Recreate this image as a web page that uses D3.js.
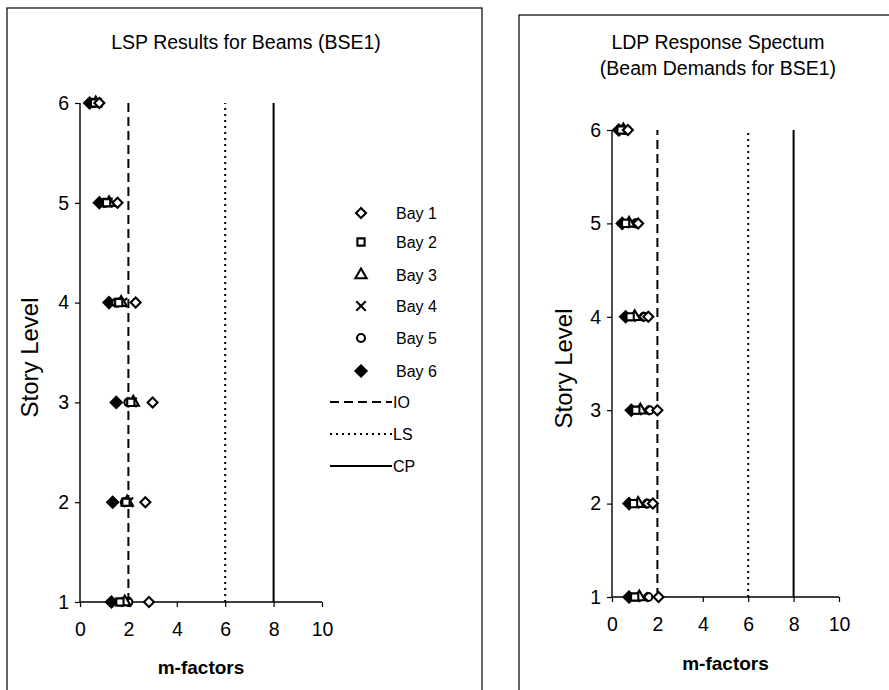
<!DOCTYPE html>
<html><head><meta charset="utf-8">
<script src="https://cdn.jsdelivr.net/npm/d3@7"></script>
<style>body{margin:0;background:#fff}svg{display:block}text{font-family:"Liberation Sans",Arial,sans-serif;fill:#000}</style>
</head><body><svg id="c" width="889" height="690"></svg>
<script>
const levels = [1, 2, 3, 4, 5, 6];
const bays = ["Bay 1", "Bay 2", "Bay 3", "Bay 4", "Bay 5", "Bay 6"];
const xTicks = [0, 2, 4, 6, 8, 10];
// LSP results (left chart), m-factor per level 1..6
const lspBay1 = [2.85, 2.7, 3.0, 2.3, 1.55, 0.8];
const lspBay2 = [1.65, 1.9, 2.1, 1.6, 1.1, 0.6];
const lspBay3 = [1.85, 1.95, 2.2, 1.7, 1.2, 0.65];
const lspBay4 = [1.9, 2.0, 2.15, 1.75, 1.15, 0.7];
const lspBay5 = [2.0, 1.85, 2.0, 1.5, 1.05, 0.55];
const lspBay6 = [1.3, 1.35, 1.5, 1.2, 0.8, 0.4];
// LDP response spectrum (right chart)
const ldpBay1 = [2.05, 1.8, 2.0, 1.6, 1.15, 0.7];
const ldpBay2 = [1.0, 0.95, 1.05, 0.8, 0.6, 0.4];
const ldpBay3 = [1.2, 1.15, 1.25, 1.0, 0.75, 0.5];
const ldpBay4 = [1.4, 1.35, 1.45, 1.2, 0.9, 0.55];
const ldpBay5 = [1.6, 1.55, 1.65, 1.4, 1.05, 0.6];
const ldpBay6 = [0.75, 0.75, 0.85, 0.6, 0.45, 0.3];
const limitNames = ["IO", "LS", "CP"];
const limitValues = [2, 6, 8];

const svg = d3.select("#c");
const symbolTypes = [d3.symbolSquare, d3.symbolSquare, d3.symbolTriangle, d3.symbolTimes, d3.symbolCircle, d3.symbolSquare];
const symbolRot = [45, 0, 0, 0, 0, 45];
const symbolSizes = [50, 52, 55, 60, 50, 62];
const symbolFill = ["#fff", "#fff", "#fff", "none", "#fff", "#000"];
const dashes = ["9,5", "2,4", null];

function mark(sel, b, x, y) {
  sel.attr("transform", `translate(${x},${y}) rotate(${symbolRot[b]})`)
    .attr("d", d3.symbol().type(symbolTypes[b]).size(symbolSizes[b]))
    .attr("fill", symbolFill[b]).attr("stroke", "#000").attr("stroke-width", 2.1);
}

function panel(cfg) {
  const g = svg.append("g");
  g.append("rect").attr("x", cfg.box[0]).attr("y", cfg.box[1]).attr("width", cfg.box[2]).attr("height", cfg.box[3])
    .attr("fill", "none").attr("stroke", "#000").attr("stroke-width", 1.2);
  cfg.title.forEach((t, i) => g.append("text").attr("x", cfg.titleX).attr("y", cfg.titleY + i * 26)
    .attr("text-anchor", "middle").attr("font-size", 19.5).text(t));
  const x = d3.scaleLinear().domain([0, 10]).range(cfg.xr);
  const y = d3.scaleLinear().domain([1, 6]).range(cfg.yr);
  const xa = g.append("g").attr("transform", `translate(0,${cfg.yr[0]})`)
    .call(d3.axisBottom(x).tickValues(xTicks).tickSize(5).tickPadding(15).tickFormat(d3.format("d")));
  const ya = g.append("g").attr("transform", `translate(${cfg.xr[0]},0)`)
    .call(d3.axisLeft(y).tickValues(levels).tickSize(5).tickPadding(6).tickFormat(d3.format("d")));
  [xa, ya].forEach(a => {
    a.select(".domain").attr("stroke", "#000").attr("stroke-width", 1.4);
    a.selectAll(".tick line").attr("stroke", "#000").attr("stroke-width", 1.2);
    a.selectAll("text").attr("font-size", 19.5).attr("font-family", "Liberation Sans, Arial, sans-serif").attr("fill", "#000");
  });
  xa.select(".domain").attr("d", `M${cfg.xr[0]},0H${cfg.xr[1]}`);
  ya.select(".domain").attr("d", `M0,${cfg.yr[0]}V${cfg.yr[1]}`);
  g.append("text").attr("x", (cfg.xr[0] + cfg.xr[1]) / 2).attr("y", cfg.xLabY).attr("text-anchor", "middle")
    .attr("font-size", 19).attr("font-weight", "bold").text("m-factors");
  g.append("text").attr("transform", `translate(${cfg.yLabX},${(cfg.yr[0] + cfg.yr[1]) / 2 + 5}) rotate(-90)`)
    .attr("text-anchor", "middle").attr("font-size", 24).text("Story Level");
  limitValues.forEach((v, i) => {
    g.append("line").attr("x1", x(v)).attr("x2", x(v)).attr("y1", y(1)).attr("y2", y(6))
      .attr("stroke", "#000").attr("stroke-width", 2).attr("stroke-dasharray", dashes[i]);
  });
  for (let b = 5; b >= 0; b--) {
    const vals = cfg.series[b];
    g.append("g").selectAll("path").data(levels).join("path")
      .each(function(d, i) { mark(d3.select(this), b, x(vals[i]), y(d)); });
  }
}

panel({box: [7, 8, 475, 690], title: ["LSP Results for Beams (BSE1)"], titleX: 246, titleY: 49,
  xr: [80, 322], yr: [602, 103], xLabY: 674, yLabX: 38,
  series: [lspBay1, lspBay2, lspBay3, lspBay4, lspBay5, lspBay6]});
panel({box: [519, 15, 380, 690], title: ["LDP Response Spectum", "(Beam Demands for BSE1)"], titleX: 718, titleY: 49,
  xr: [612, 839], yr: [597, 130], xLabY: 670, yLabX: 572,
  series: [ldpBay1, ldpBay2, ldpBay3, ldpBay4, ldpBay5, ldpBay6]});

const leg = svg.append("g");
const legY = [213, 242, 275, 306, 338, 371];
bays.forEach((b, i) => {
  mark(leg.append("path"), i, 361, legY[i]);
  leg.append("text").attr("x", 396).attr("y", legY[i] + 6).attr("font-size", 16).text(b);
});
const lineY = [402, 434, 466];
limitNames.forEach((n, i) => {
  leg.append("line").attr("x1", 330).attr("x2", 392).attr("y1", lineY[i]).attr("y2", lineY[i])
    .attr("stroke", "#000").attr("stroke-width", 2).attr("stroke-dasharray", dashes[i]);
  leg.append("text").attr("x", 393).attr("y", lineY[i] + 6).attr("font-size", 16).text(n);
});
</script></body></html>
